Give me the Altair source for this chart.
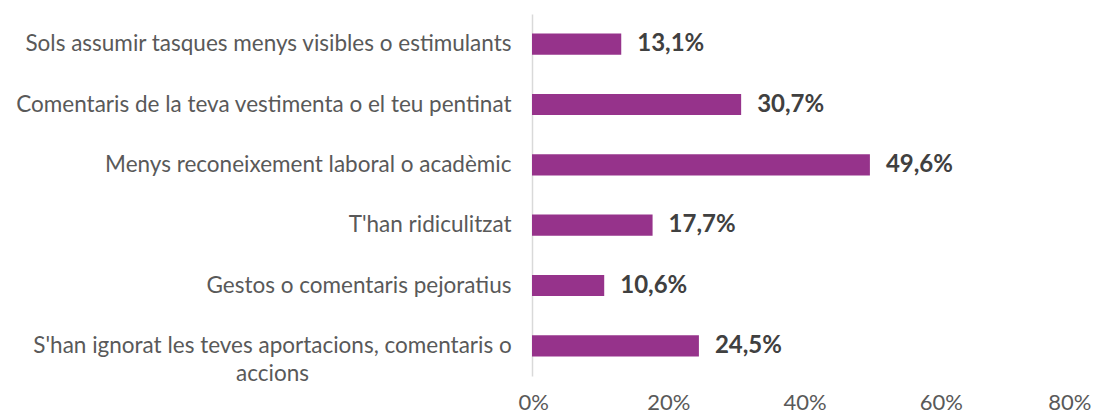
import json
import altair as alt
import pandas as pd

categories = [
    "Sols assumir tasques menys visibles o estimulants",
    "Comentaris de la teva vestimenta o el teu pentinat",
    "Menys reconeixement laboral o acadèmic",
    "T'han ridiculitzat",
    "Gestos o comentaris pejoratius",
    "S'han ignorat les teves aportacions, comentaris o accions",
]
values = [13.1, 30.7, 49.6, 17.7, 10.6, 24.5]
tick_values = [0, 20, 40, 60, 80]

wrapped_key = categories[-1]
wrapped_lines = ["S'han ignorat les teves aportacions, comentaris o", "accions"]

df = pd.DataFrame({
    "cat": categories,
    "val": values,
    "lbl": [f"{v:.1f}".replace(".", ",") + "%" for v in values],
})

FONT = "Lato"
test = f"datum.value == {json.dumps(wrapped_key)}"

y_axis = alt.Axis(
    title=None,
    ticks=False,
    domain=True,
    domainColor="#D9D9D9",
    domainWidth=1.5,
    labelFont=FONT,
    labelFontSize=22.5,
    labelColor="#595959",
    labelLimit=600,
    labelLineHeight=28,
    labelExpr=f"{test} ? {json.dumps(wrapped_lines)} : datum.label",
    labelAlign={"condition": {"test": test, "value": "center"}, "value": "right"},
    labelPadding={"condition": {"test": test, "value": 260}, "value": 21},
)

x_axis = alt.Axis(
    title=None,
    values=tick_values,
    grid=False,
    domain=False,
    ticks=False,
    labelFont=FONT,
    labelFontSize=22,
    labelColor="#595959",
    labelPadding=16,
    labelFlush=True,
    labelFlushOffset=14,
    labelExpr="datum.value + '%'",
)

base = alt.Chart(df).encode(
    y=alt.Y("cat:N", sort=categories, axis=y_axis,
            scale=alt.Scale(paddingInner=0.65, paddingOuter=0.325)),
    x=alt.X("val:Q", axis=x_axis, scale=alt.Scale(domain=[0, 80], nice=False)),
)

bars = base.mark_bar(color="#96338B")
text = base.mark_text(align="left", baseline="middle", dx=16, font=FONT,
                      fontWeight="bold", fontSize=24, color="#404040").encode(text="lbl:N")

chart = (bars + text).properties(
    width=545,
    height=362,
    background="white",
    autosize=alt.AutoSizeParams(type="none"),
    padding={"left": 524, "top": 6, "right": 15, "bottom": 40},
).configure_view(strokeWidth=0)

chart.save("out.html", embed_options={"renderer": "svg", "actions": False})
